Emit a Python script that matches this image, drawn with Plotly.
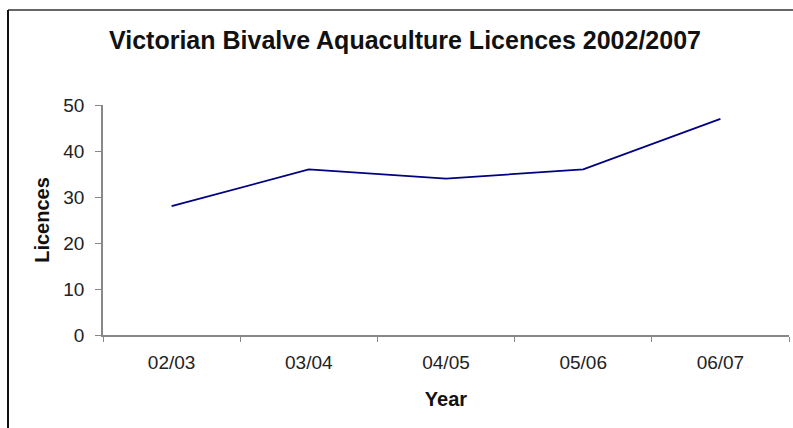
import plotly.graph_objects as go

# Licence counts per financial year
years = ["02/03", "03/04", "04/05", "05/06", "06/07"]
licences = [28, 36, 34, 36, 47]
y_ticks = [0, 10, 20, 30, 40, 50]

FONT = "Arial, Liberation Sans, sans-serif"
W, H = 793, 428
L, R, T, B = 103, 4, 105, 93
pw, ph = W - L - R, H - T - B

def px_x(x):
    return (x - L) / pw

def px_y(y):
    return (H - B - y) / ph

fig = go.Figure()
fig.add_trace(go.Scatter(
    x=years, y=licences, mode="lines",
    line=dict(color="#000080", width=1.8),
    showlegend=False, hoverinfo="x+y",
))

fig.update_layout(
    width=W, height=H,
    margin=dict(l=L, r=R, t=T, b=B),
    paper_bgcolor="white", plot_bgcolor="white",
    font=dict(family=FONT, size=19, color="#222222"),
    title=dict(
        text="<b>Victorian Bivalve Aquaculture Licences 2002/2007</b>",
        x=405 / W, xanchor="center", xref="container",
        y=1 - 40 / H, yanchor="middle", yref="container",
        font=dict(family=FONT, size=25, color="#111111"),
    ),
    xaxis=dict(
        type="category", range=[-0.5, 4.5],
        showline=True, linecolor="#888888", linewidth=1.5,
        ticks="outside", tickson="boundaries", ticklen=5, tickcolor="#888888",
        ticklabelstandoff=9,
        showgrid=False, zeroline=False,
        tickfont=dict(size=19, color="#222222"),
        title=dict(text="<b>Year</b>", font=dict(size=20, color="#111111"), standoff=20),
    ),
    yaxis=dict(
        range=[0, 50], tickvals=y_ticks,
        showline=True, linecolor="#888888", linewidth=1.5,
        ticks="outside", ticklen=6, tickcolor="#888888",
        ticklabelstandoff=7,
        showgrid=False, zeroline=False,
        tickfont=dict(size=19, color="#222222"),
        title=dict(text="<b>Licences</b>", font=dict(size=20, color="#111111"), standoff=8),
    ),
    shapes=[
        # chart frame: top and left edges
        dict(type="line", xref="paper", yref="paper",
             x0=px_x(8), x1=px_x(W + 2), y0=px_y(10), y1=px_y(10),
             line=dict(color="#666666", width=2)),
        dict(type="line", xref="paper", yref="paper",
             x0=px_x(8), x1=px_x(8), y0=px_y(10), y1=px_y(H + 2),
             line=dict(color="#111111", width=2)),
    ],
)

fig.write_html("out.html")
